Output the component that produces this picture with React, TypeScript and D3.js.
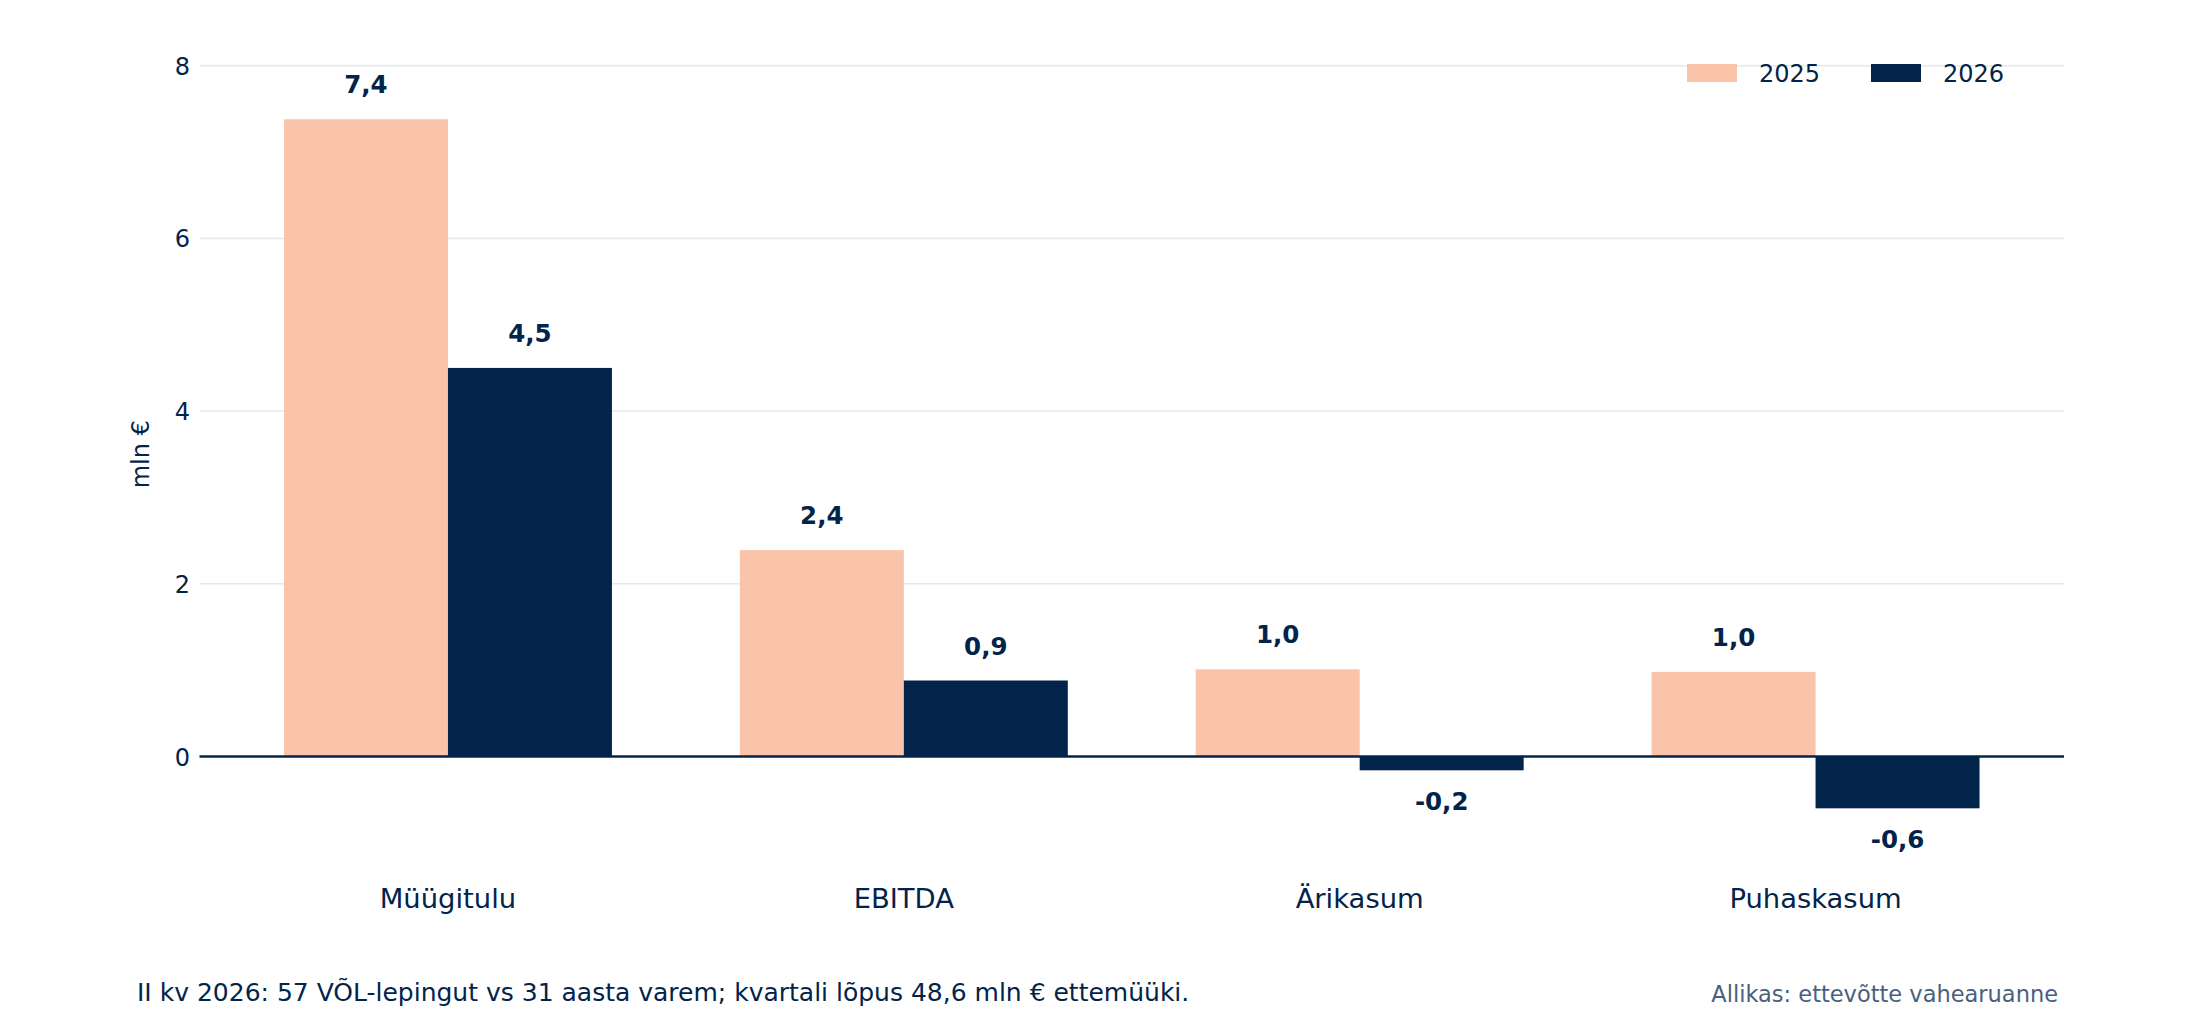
import { useMemo } from 'react';
import * as d3 from 'd3';

const categories = ['Müügitulu', 'EBITDA', 'Ärikasum', 'Puhaskasum'];
const seriesNames = ['2025', '2026'];
const values2025 = [7.38, 2.39, 1.01, 0.98];
const values2026 = [4.5, 0.88, -0.16, -0.6];
const yTicks = [0, 2, 4, 6, 8];

const footNote =
  'II kv 2026: 57 VÕL-lepingut vs 31 aasta varem; kvartali lõpus 48,6 mln € ettemüüki.';
const sourceNote = 'Allikas: ettevõtte vahearuanne';
const yTitle = 'mln €';

const WIDTH = 2196;
const HEIGHT = 1024;
const NAVY = '#02244b';
const PEACH = '#f9c4aa';
const FONT = '"DejaVu Sans", Verdana, sans-serif';

const fmt = (v: number) => v.toFixed(1).replace('.', ',');

export default function App() {
  const x = useMemo(
    () =>
      d3
        .scaleBand<string>()
        .domain(categories)
        .range([199.5, 2064])
        .paddingInner(0)
        .paddingOuter(0.045),
    []
  );
  const xInner = useMemo(
    () =>
      d3
        .scaleBand<string>()
        .domain(seriesNames)
        .range([0, x.step()])
        .paddingInner(0)
        .paddingOuter(0.39),
    [x]
  );
  const y = useMemo(
    () => d3.scaleLinear().domain([0, 8]).range([756.5, 65.7]),
    []
  );

  const series = [
    { name: seriesNames[0], values: values2025, color: PEACH },
    { name: seriesNames[1], values: values2026, color: NAVY },
  ];

  const [x0, x1] = x.range();

  return (
    <>
      <style>{`body{margin:0}`}</style>
      <svg
        width={WIDTH}
        height={HEIGHT}
        style={{ display: 'block', background: '#fff', fontFamily: FONT }}
      >
        {/* Gridlines + tick labels */}
        {yTicks.map((t) => (
          <g key={t}>
            {t !== 0 && (
              <line
                x1={x0}
                x2={x1}
                y1={y(t)}
                y2={y(t)}
                stroke="#e5e8ee"
                strokeWidth={1.5}
              />
            )}
            <text
              x={190}
              y={y(t) + 9}
              textAnchor="end"
              fontSize={24}
              fill={NAVY}
            >
              {t}
            </text>
          </g>
        ))}

        {/* Y-axis title */}
        <text
          transform={`translate(149,${y(3.5)}) rotate(-90)`}
          textAnchor="middle"
          fontSize={24}
          fill={NAVY}
        >
          {yTitle}
        </text>

        {/* Bars */}
        {series.map((s) =>
          categories.map((c, i) => {
            const v = s.values[i];
            const bx = (x(c) ?? 0) + (xInner(s.name) ?? 0);
            const top = y(Math.max(v, 0));
            const bottom = y(Math.min(v, 0));
            return (
              <g key={s.name + c}>
                <rect
                  x={bx}
                  y={top}
                  width={xInner.bandwidth()}
                  height={bottom - top}
                  fill={s.color}
                />
                <text
                  x={bx + xInner.bandwidth() / 2}
                  y={v >= 0 ? top - 26 : bottom + 40}
                  textAnchor="middle"
                  fontSize={24.5}
                  fontWeight="bold"
                  fill={NAVY}
                >
                  {fmt(v)}
                </text>
              </g>
            );
          })
        )}

        {/* Zero line */}
        <line
          x1={x0}
          x2={x1}
          y1={y(0)}
          y2={y(0)}
          stroke={NAVY}
          strokeWidth={2.5}
        />

        {/* Category labels */}
        {categories.map((c) => (
          <text
            key={c}
            x={(x(c) ?? 0) + x.bandwidth() / 2}
            y={907.7}
            textAnchor="middle"
            fontSize={27.4}
            fill={NAVY}
          >
            {c}
          </text>
        ))}

        {/* Legend */}
        {series.map((s, i) => (
          <g key={s.name} transform={`translate(${1687 + i * 184},64)`}>
            <rect width={50} height={18} fill={s.color} />
            <text x={72} y={17.5} fontSize={24} fill={NAVY}>
              {s.name}
            </text>
          </g>
        ))}

        {/* Footer */}
        <text x={137} y={1001} fontSize={25} fill={NAVY}>
          {footNote}
        </text>
        <text
          x={2058}
          y={1001.5}
          textAnchor="end"
          fontSize={22.5}
          fill="#4a5f7e"
        >
          {sourceNote}
        </text>
      </svg>
    </>
  );
}
